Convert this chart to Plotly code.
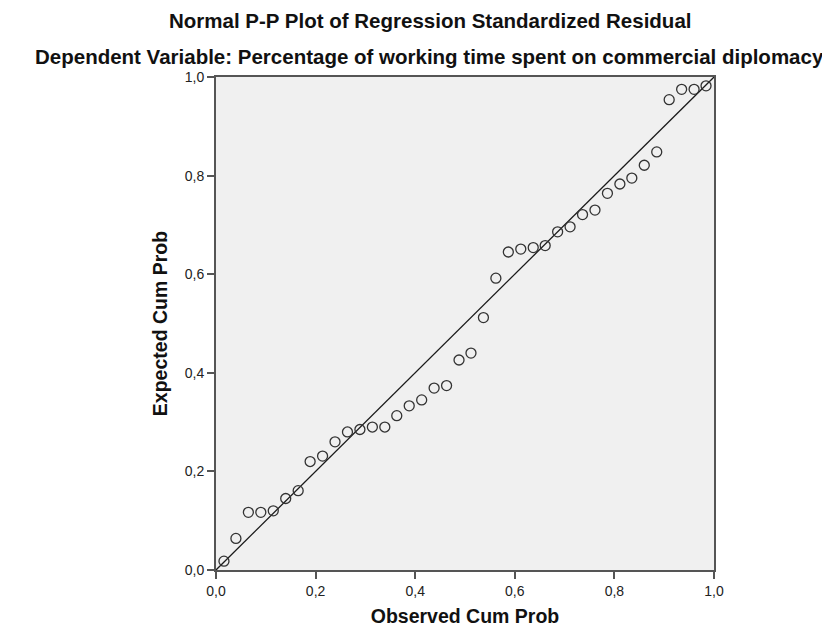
import plotly.graph_objects as go

# Observed and expected cumulative probabilities
observed_cum_prob = [0.016, 0.040, 0.065, 0.090, 0.115, 0.140, 0.165, 0.189, 0.214, 0.239,
                     0.264, 0.289, 0.314, 0.339, 0.363, 0.388, 0.413, 0.438, 0.463, 0.488,
                     0.512, 0.537, 0.562, 0.587, 0.612, 0.637, 0.661, 0.686, 0.711, 0.736,
                     0.761, 0.786, 0.811, 0.835, 0.860, 0.885, 0.910, 0.935, 0.960, 0.984]
expected_cum_prob = [0.018, 0.064, 0.117, 0.117, 0.120, 0.145, 0.161, 0.220, 0.231, 0.260,
                     0.280, 0.285, 0.290, 0.290, 0.313, 0.333, 0.345, 0.369, 0.374, 0.426,
                     0.440, 0.512, 0.592, 0.645, 0.651, 0.654, 0.658, 0.686, 0.696, 0.721,
                     0.730, 0.764, 0.783, 0.795, 0.821, 0.848, 0.954, 0.975, 0.975, 0.982]
reference_line = [0.0, 1.0]
tick_values = [0.0, 0.2, 0.4, 0.6, 0.8, 1.0]
tick_labels = ["0,0", "0,2", "0,4", "0,6", "0,8", "1,0"]

FONT = "Liberation Sans, Arial, sans-serif"

fig = go.Figure()
fig.add_trace(go.Scatter(
    x=reference_line, y=reference_line, mode="lines",
    line=dict(color="#1a1a1a", width=1.3), hoverinfo="skip", showlegend=False))
fig.add_trace(go.Scatter(
    x=observed_cum_prob, y=expected_cum_prob, mode="markers",
    marker=dict(symbol="circle-open", size=10, color="#333333", line=dict(width=1.3)),
    showlegend=False))

axis_common = dict(
    range=[0, 1], tickvals=tick_values, ticktext=tick_labels,
    showgrid=False, zeroline=False, showline=True, mirror=True,
    linecolor="#555555", linewidth=2, ticks="outside", ticklen=7,
    tickwidth=2, tickcolor="#555555",
    tickfont=dict(family=FONT, size=14, color="#222222"),
)

fig.update_layout(
    width=830, height=628, autosize=False,
    margin=dict(l=208, r=124, t=69, b=62),
    paper_bgcolor="white", plot_bgcolor="#F0F0F0",
    xaxis=dict(**axis_common,
               title=dict(text="<b>Observed Cum Prob</b>",
                          font=dict(family=FONT, size=19.5, color="#111111"), standoff=12)),
    yaxis=dict(**axis_common,
               title=dict(text="<b>Expected Cum Prob</b>",
                          font=dict(family=FONT, size=19.5, color="#111111"), standoff=12)),
    annotations=[
        dict(text="<b>Normal P-P Plot of Regression Standardized Residual</b>",
             xref="paper", yref="paper", x=(422 - 208) / 498, y=1 + (69 - 12) / 497,
             xanchor="center", yanchor="middle", showarrow=False,
             font=dict(family=FONT, size=20.5, color="#111111")),
        dict(text="<b>Dependent Variable: Percentage of working time spent on commercial diplomacy</b>",
             xref="paper", yref="paper", x=(421 - 208) / 498, y=1 + (69 - 48) / 497,
             xanchor="center", yanchor="middle", showarrow=False,
             font=dict(family=FONT, size=20.5, color="#111111")),
    ],
)

fig.write_html("out.html")
